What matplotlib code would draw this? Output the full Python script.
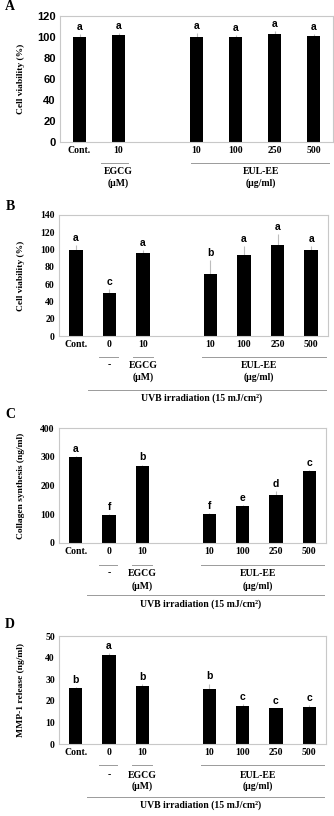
import matplotlib
matplotlib.use("Agg")
import matplotlib.pyplot as plt

SERIF = "Liberation Serif"
SANS = "Liberation Sans"

# panel A
a_labels = ["Cont.", "10", "10", "100", "250", "500"]
a_vals = [100, 102, 100, 100, 103, 101]
a_err = [3, 2, 4, 2, 3, 2]
a_sig = ["a", "a", "a", "a", "a", "a"]

# panels B-D share the categories
bcd_labels = ["Cont.", "0", "10", "10", "100", "250", "500"]

b_vals = [100, 50, 96, 72, 94, 105, 99]
b_err = [5, 4, 3, 16, 10, 13, 5]
b_sig = ["a", "c", "a", "b", "a", "a", "a"]

c_vals = [298, 97, 268, 100, 127, 167, 250]
c_err = [4, 4, 5, 4, 5, 15, 4]
c_sig = ["a", "f", "b", "f", "e", "d", "c"]

d_vals = [26, 41, 27, 25.5, 17.5, 16.5, 17.2]
d_err = [0.5, 1, 0.8, 2.5, 0.8, 0.3, 0.8]
d_sig = ["b", "a", "b", "b", "c", "c", "c"]

W, H = 334, 816
fig = plt.figure(figsize=(W / 100, H / 100), dpi=100)
FS = 7  # main text size


def make_ax(left, right, top, bottom):
    return fig.add_axes([left / W, 1 - bottom / H, (right - left) / W, (bottom - top) / H])


def bars(ax, pos, vals, err, sig, width, ymax, step, tickfont, ylabel, lab_x):
    ax.bar(pos, vals, width=width, color="black", zorder=2)
    ax.errorbar(pos, vals, yerr=[[0] * len(err), err], fmt="none",
                ecolor="#bdbdbd", elinewidth=0.8, capsize=0, zorder=1)
    for x, v, e, s in zip(pos, vals, err, sig):
        ax.annotate(s, (x, v + e), xytext=(0, 1.5), textcoords="offset points",
                    ha="center", va="bottom", fontsize=7.5, fontweight="bold",
                    family=SANS)
    ax.set_ylim(0, ymax)
    ax.set_yticks(range(0, ymax + 1, step))
    ax.tick_params(length=0, pad=3)
    for t in ax.get_yticklabels():
        t.set_family(tickfont)
        t.set_fontweight("bold")
        t.set_fontsize(8 if tickfont == SANS else 7)
    for sp in ax.spines.values():
        sp.set_color("#c8c8c8")
        sp.set_linewidth(0.8)
    ax.set_ylabel(ylabel, family=SERIF, fontweight="bold", fontsize=6.8)
    ax.yaxis.set_label_coords(lab_x, 0.5)


def xlabels(ax, pos, labels):
    ax.set_xticks(pos)
    ax.set_xticklabels(labels, family=SERIF, fontweight="bold", fontsize=FS)


def yfrac(py, top, bottom):
    return (bottom - py) / (bottom - top)


def hline(ax, x0, x1, py, top, bottom):
    y = yfrac(py, top, bottom)
    ax.plot([x0, x1], [y, y], color="#9a9a9a", lw=0.7,
            transform=ax.get_xaxis_transform(), clip_on=False)


def label(ax, x, py, s, top, bottom):
    ax.text(x, yfrac(py, top, bottom), s, transform=ax.get_xaxis_transform(),
            ha="center", va="center", family=SERIF, fontweight="bold", fontsize=FS)


# ---- A ----
top, bot = 16, 142
ax = make_ax(60, 333, top, bot)
pos_a = [0, 1, 3, 4, 5, 6]
bars(ax, pos_a, a_vals, a_err, a_sig, 0.33, 120, 20, SANS, "Cell viability (%)", -0.128)
xlabels(ax, pos_a, a_labels)
ax.set_xlim(-0.5, 6.5)
hline(ax, 0.55, 1.25, 163, top, bot)
hline(ax, 2.85, 6.4, 163, top, bot)
label(ax, 1, 172, "EGCG", top, bot)
label(ax, 1, 183, "(μM)", top, bot)
label(ax, 4.65, 172, "EUL-EE", top, bot)
label(ax, 4.65, 183, "(μg/ml)", top, bot)
fig.text(10 / W, 1 - 6 / H, "A", family=SERIF, fontweight="bold", fontsize=10,
         ha="center", va="center")

pos_b = [0, 1, 2, 4, 5, 6, 7]


def lower_panel(top, bot, vals, err, sig, ymax, step, ylabel, letter, letter_y,
                line_y, g1_y, g2_y, uvb_line, uvb_text, right=328):
    ax = make_ax(59, right, top, bot)
    bars(ax, pos_b, vals, err, sig, 0.4, ymax, step, SERIF, ylabel,
         (25 - 59) / (right - 59))
    xlabels(ax, pos_b, bcd_labels)
    ax.set_xlim(-0.5, 7.5)
    hline(ax, 0.7, 1.25, line_y, top, bot)
    hline(ax, 1.7, 2.3, line_y, top, bot)
    hline(ax, 3.75, 7.45, line_y, top, bot)
    label(ax, 1, g1_y, "-", top, bot)
    label(ax, 2, g1_y, "EGCG", top, bot)
    label(ax, 2, g2_y, "(μM)", top, bot)
    label(ax, 5.45, g1_y, "EUL-EE", top, bot)
    label(ax, 5.45, g2_y, "(μg/ml)", top, bot)
    hline(ax, 0.35, 7.45, uvb_line, top, bot)
    label(ax, 3.75, uvb_text, "UVB irradiation (15 mJ/cm²)", top, bot)
    fig.text(10 / W, 1 - letter_y / H, letter, family=SERIF, fontweight="bold",
             fontsize=10, ha="center", va="center")
    return ax


lower_panel(215, 336, b_vals, b_err, b_sig, 140, 20, "Cell viability (%)", "B", 207,
            357, 365, 377, 390, 398)
lower_panel(428, 543, c_vals, c_err, c_sig, 400, 100, "Collagen synthesis (ng/ml)", "C", 415,
            565, 573, 586, 595, 604, right=326)
lower_panel(636, 744, d_vals, d_err, d_sig, 50, 10, "MMP-1 release (ng/ml)", "D", 625,
            765, 775, 786, 797, 805, right=326)

fig.savefig("out.png", dpi=100)
